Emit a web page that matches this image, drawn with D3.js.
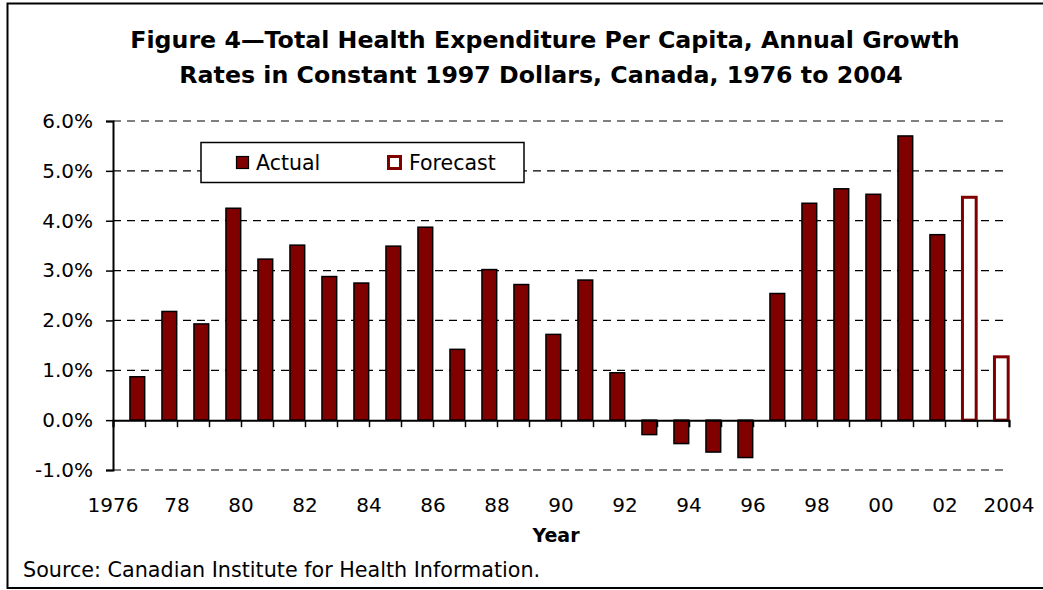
<!DOCTYPE html>
<html>
<head>
<meta charset="utf-8">
<title>Figure 4</title>
<script src="https://cdn.jsdelivr.net/npm/d3@7"></script>
<style>
  body { margin: 0; background: #fff; }
  text { font-family: "DejaVu Sans", Verdana, sans-serif; fill: #000; }
</style>
</head>
<body>
<svg id="chart" width="1043" height="590"></svg>
<script>
// growth rates, % per year (1977..2004)
const years = d3.range(1977, 2005)
const actual = [0.87, 2.18, 1.93, 4.25, 3.23, 3.51, 2.88, 2.75, 3.49, 3.87,
                1.42, 3.02, 2.72, 1.72, 2.81, 0.95, -0.29, -0.47, -0.64, -0.75,
                2.54, 4.35, 4.64, 4.53, 5.70, 3.72, null, null]
const forecast = [null, null, null, null, null, null, null, null, null, null,
                  null, null, null, null, null, null, null, null, null, null,
                  null, null, null, null, null, null, 4.47, 1.27]
const yTicks = [-1, 0, 1, 2, 3, 4, 5, 6]
const labelYears = d3.range(1976, 2005, 2)
const titleLines = ["Figure 4\u2014Total Health Expenditure Per Capita, Annual Growth",
                    "Rates in Constant 1997 Dollars, Canada, 1976 to 2004"]
const seriesNames = ["Actual", "Forecast"]

const maroon = "#800000"
const plot = { left: 113, right: 1009, top: 121, bottom: 470 }

const svg = d3.select("#chart")

// frame
svg.append("path")
    .attr("d", "M1043,3.5 H7.5 V588 H1043")
    .attr("fill", "none")
    .attr("stroke", "#000")
    .attr("stroke-width", 2)

// title
svg.append("g")
    .selectAll("text")
    .data(titleLines)
    .enter()
    .append("text")
    .attr("x", (d, i) => i == 0 ? 545 : 541)
    .attr("y", (d, i) => 48 + i * 35)
    .attr("text-anchor", "middle")
    .style("font-weight", "bold")
    .style("font-size", "23.7px")
    .text(d => d)

var y = d3.scaleLinear()
    .domain([-1, 6])
    .range([plot.bottom, plot.top])

var xYear = d3.scaleLinear()
    .domain([1976, 2004])
    .range([plot.left, plot.right])

var xBand = d3.scaleBand()
    .domain(years)
    .range([plot.left, plot.right])

const bw = xBand.bandwidth()

// gridlines
svg.append("g")
    .selectAll("line")
    .data(yTicks.filter(d => d != 0))
    .enter()
    .append("line")
    .attr("x1", plot.left)
    .attr("x2", plot.right)
    .attr("y1", d => y(d))
    .attr("y2", d => y(d))
    .attr("stroke", "#000")
    .attr("stroke-width", 1.2)
    .attr("stroke-dasharray", "8,6")

// y axis
var yAxis = svg.append("g")
    .attr("transform", `translate(${plot.left},0)`)
    .call(d3.axisLeft(y)
        .tickValues(yTicks)
        .tickSize(7)
        .tickPadding(13)
        .tickFormat(d => d.toFixed(1) + "%"))
yAxis.select(".domain").attr("stroke-width", 2)
yAxis.selectAll(".tick line").attr("stroke-width", 1.5)
yAxis.selectAll("text")
    .style("font-family", "'DejaVu Sans', Verdana, sans-serif")
    .style("font-size", "20px")

// bars: actual
svg.append("g")
    .selectAll("rect")
    .data(years.map((yr, i) => ({ year: yr, value: actual[i] })).filter(d => d.value != null))
    .enter()
    .append("rect")
    .attr("x", d => xBand(d.year) + bw * 0.53)
    .attr("width", bw * 0.46)
    .attr("y", d => y(Math.max(0, d.value)))
    .attr("height", d => Math.abs(y(d.value) - y(0)))
    .attr("fill", maroon)
    .attr("stroke", "#000")
    .attr("stroke-width", 1.5)

// bars: forecast
svg.append("g")
    .selectAll("rect")
    .data(years.map((yr, i) => ({ year: yr, value: forecast[i] })).filter(d => d.value != null))
    .enter()
    .append("rect")
    .attr("x", d => xBand(d.year) + bw * 0.53 + 0.5)
    .attr("width", bw * 0.46 - 1)
    .attr("y", d => y(Math.max(0, d.value)))
    .attr("height", d => Math.abs(y(d.value) - y(0)))
    .attr("fill", "#fff")
    .attr("stroke", maroon)
    .attr("stroke-width", 3)

// x axis at zero
var xAxis = svg.append("g")
    .attr("transform", `translate(0,${y(0)})`)
    .call(d3.axisBottom(xYear)
        .tickValues(d3.range(1976, 2005))
        .tickSize(7)
        .tickFormat(""))
xAxis.select(".domain").attr("stroke-width", 2)
xAxis.selectAll(".tick line").attr("stroke-width", 1.5)

// year labels
svg.append("g")
    .selectAll("text")
    .data(labelYears)
    .enter()
    .append("text")
    .attr("x", d => xYear(d))
    .attr("y", 512)
    .attr("text-anchor", "middle")
    .style("font-size", "20px")
    .text(d => (d == 1976 || d == 2004) ? String(d) : String(d).slice(2))

svg.append("text")
    .attr("x", 556)
    .attr("y", 542)
    .attr("text-anchor", "middle")
    .style("font-weight", "bold")
    .style("font-size", "19px")
    .text("Year")

// legend
var legend = svg.append("g")
legend.append("rect")
    .attr("x", 201).attr("y", 142.5)
    .attr("width", 323).attr("height", 40)
    .attr("fill", "#fff")
    .attr("stroke", "#000")
    .attr("stroke-width", 1.5)
legend.selectAll("rect.swatch")
    .data(seriesNames)
    .enter()
    .append("rect")
    .classed("swatch", true)
    .attr("x", (d, i) => i == 0 ? 236.5 : 388.5)
    .attr("y", 156.5)
    .attr("width", 12)
    .attr("height", 12)
    .attr("fill", (d, i) => i == 0 ? maroon : "#fff")
    .attr("stroke", (d, i) => i == 0 ? "#000" : maroon)
    .attr("stroke-width", (d, i) => i == 0 ? 1.2 : 3)
legend.selectAll("text")
    .data(seriesNames)
    .enter()
    .append("text")
    .attr("x", (d, i) => i == 0 ? 256 : 409)
    .attr("y", 170)
    .style("font-size", "20.5px")
    .text(d => d)

// source note
svg.append("text")
    .attr("x", 23)
    .attr("y", 577)
    .style("font-size", "20.7px")
    .text("Source: Canadian Institute for Health Information.")
</script>
</body>
</html>
